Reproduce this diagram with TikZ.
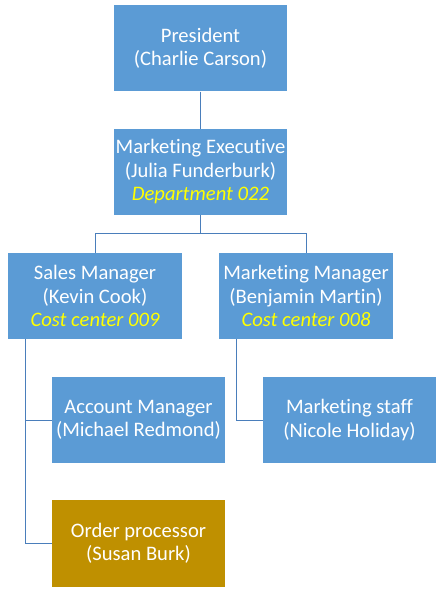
\documentclass[tikz,border=0pt]{standalone}
\usepackage{fontspec}
\setmainfont{Carlito}[Ligatures=CommonOff]
\definecolor{boxblue}{HTML}{5B9BD5}
\definecolor{boxgold}{HTML}{BF9000}
\definecolor{linkblue}{HTML}{4A7EBB}
\definecolor{hiyellow}{HTML}{FFFF00}
\begin{document}
\begin{tikzpicture}[x=1pt,y=-1pt,
  orgbox/.style={rectangle, fill=boxblue, text=white, align=center,
    minimum width=173pt, minimum height=86pt, inner sep=0pt,
    font=\fontsize{20.6}{23.5}\selectfont},
  goldbox/.style={orgbox, fill=boxgold},
  link/.style={draw=linkblue, line width=1pt}]
\useasboundingbox (0,0) rectangle (442,593);
\node[orgbox] (pres) at (200.5,48.5) {President\\(Charlie Carson)};
\node[orgbox] (exec) at (200.5,172) {Marketing Executive\\(Julia Funderburk)\\{\color{hiyellow}\itshape Department 022}};
\node[orgbox, minimum width=174pt] (sales) at (95,296) {Sales Manager\\(Kevin Cook)\\{\color{hiyellow}\itshape Cost center 009}};
\node[orgbox, minimum width=174pt] (mm) at (306,296) {Marketing Manager\\(Benjamin Martin)\\{\color{hiyellow}\itshape Cost center 008}};
\node[orgbox] (acct) at (138.5,420) {Account Manager\\(Michael Redmond)};
\node[orgbox] (staff) at (349.5,420) {Marketing staff\\(Nicole Holiday)};
\node[goldbox, minimum height=87pt] (order) at (138.5,543.5) {Order processor\\(Susan Burk)};
\coordinate (bus) at (200.5,233.5);
\draw[link] (pres.south) -- (exec.north);
\draw[link] (exec.south) -- (bus) -| (sales.north);
\draw[link] (bus) -| (mm.north);
\draw[link] ([xshift=18pt]sales.south west) |- (order.west);
\draw[link] ([xshift=18pt]sales.south west) |- (acct.west);
\draw[link] ([xshift=18pt]mm.south west) |- (staff.west);
\end{tikzpicture}
\end{document}
